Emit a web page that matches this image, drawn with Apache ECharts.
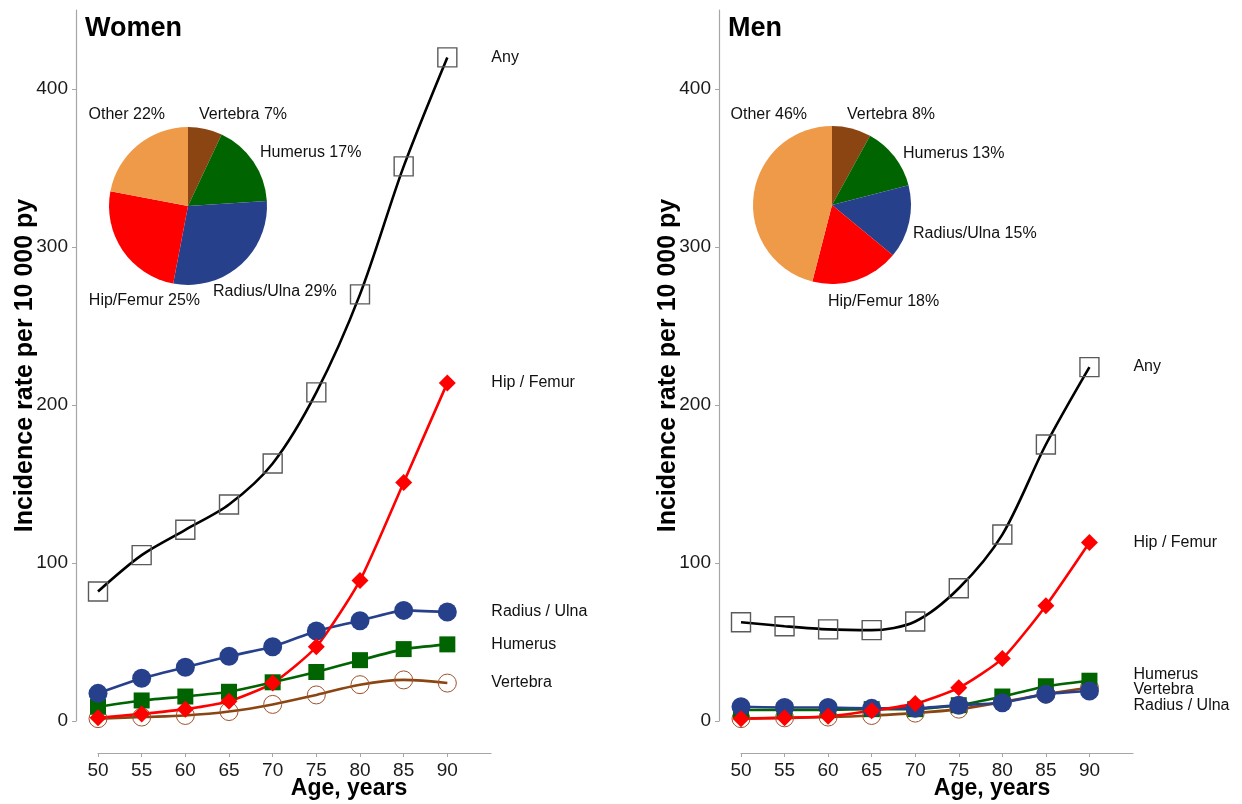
<!DOCTYPE html>
<html>
<head>
<meta charset="utf-8">
<script src="https://cdn.jsdelivr.net/npm/echarts@6/dist/echarts.min.js"></script>
<style>
  html, body { margin: 0; padding: 0; background: #fff; }
  #chart { width: 1242px; height: 804px; }
</style>
</head>
<body>
<div id="chart"></div>
<script>
// Age groups (years) and axis ticks
const ages = [50, 55, 60, 65, 70, 75, 80, 85, 90];
const xTicks = [50, 55, 60, 65, 70, 75, 80, 85, 90];
const yTicks = [0, 100, 200, 300, 400];

// Incidence rate per 10 000 person-years, women
const womenAny      = [82, 105, 121, 137, 163, 208, 270, 351, 420];
const womenHip      = [2, 4.5, 7.5, 12.5, 24, 47, 89, 151, 214];
const womenRadius   = [17.5, 27, 34, 41, 47, 57, 63.5, 70, 69];
const womenHumerus  = [9, 13, 15.5, 18.5, 24.5, 31, 38.5, 45.5, 48.5];
const womenVertebra = [1.5, 2.5, 3.5, 6, 10.5, 16.5, 23, 26, 24];

// Incidence rate per 10 000 person-years, men
const menAny      = [62.5, 60, 58, 57.5, 63, 84, 118, 175, 224];
const menHip      = [1.5, 2, 3, 6.5, 11, 21, 39.5, 73, 113];
const menRadius   = [9, 8.5, 8.5, 8, 8, 10, 11.5, 17, 19];
const menHumerus  = [7, 7, 7, 7.5, 7.5, 10, 15.5, 22, 25.5];
const menVertebra = [1.5, 2, 2.5, 3.5, 5, 7.5, 12, 17, 21];

// Share of fracture sites (%), clockwise from 12 o'clock
const pieSites = ['Vertebra', 'Humerus', 'Radius/Ulna', 'Hip/Femur', 'Other'];
const womenShare = [7, 17, 29, 25, 22];
const menShare   = [8, 13, 15, 18, 46];

const FONT = '"Liberation Sans", Arial, Helvetica, sans-serif';
const C = {
  any: '#000000', hip: '#ff0000', radius: '#27408b',
  humerus: '#006400', vertebra: '#8b4513', other: '#ee9a49'
};
const pieColors = [C.vertebra, C.humerus, C.radius, C.hip, C.other];

const pairs = vals => ages.map((a, i) => [a, vals[i]]);

function lineSeries(name, vals, gi, kind, labelDy) {
  const base = {
    name: name, type: 'line', xAxisIndex: gi, yAxisIndex: gi,
    data: pairs(vals), animation: false, silent: true,
    lineStyle: { width: 2.6 },
    endLabel: {
      show: true, formatter: name, distance: 44, offset: [0, labelDy || 0],
      fontFamily: FONT, fontSize: 16, color: '#111'
    }
  };
  if (kind === 'any') {
    Object.assign(base, {
      symbol: 'rect', symbolSize: 19, smooth: 0.3,
      lineStyle: { width: 2.6, color: C.any },
      itemStyle: { color: 'rgba(255,255,255,0)', borderColor: '#5a5a5a', borderWidth: 1.4 }
    });
  } else if (kind === 'hip') {
    Object.assign(base, {
      symbol: 'diamond', symbolSize: 17, smooth: 0.2,
      lineStyle: { width: 2.6, color: C.hip }, itemStyle: { color: C.hip }
    });
  } else if (kind === 'radius') {
    Object.assign(base, {
      symbol: 'circle', symbolSize: 19, smooth: 0.15,
      lineStyle: { width: 2.6, color: C.radius }, itemStyle: { color: C.radius }
    });
  } else if (kind === 'humerus') {
    Object.assign(base, {
      symbol: 'rect', symbolSize: 16, smooth: 0.15,
      lineStyle: { width: 2.6, color: C.humerus }, itemStyle: { color: C.humerus }
    });
  } else {
    Object.assign(base, {
      symbol: 'circle', symbolSize: 18, smooth: 0.35,
      lineStyle: { width: 2.6, color: C.vertebra },
      itemStyle: { color: 'rgba(255,255,255,0)', borderColor: '#a0522d', borderWidth: 1 }
    });
  }
  return base;
}

// Pie label anchors: [x, y, align]
const womenPieLabelPos = [[199, 115, 'left'], [260, 153, 'left'], [213, 292, 'left'], [200, 301, 'right'], [165, 115, 'right']];
const menPieLabelPos   = [[847, 115, 'left'], [903, 154, 'left'], [913, 234, 'left'], [828, 302, 'left'], [807, 115, 'right']];

function pieSeries(shares, center, pos) {
  return {
    type: 'pie', center: center, radius: 79, startAngle: 90, clockwise: true,
    animation: false, silent: true, avoidLabelOverlap: false, z: 1,
    data: pieSites.map((s, i) => ({ name: s, value: shares[i], itemStyle: { color: pieColors[i] } })),
    label: {
      show: true, position: 'outside', formatter: p => p.name + ' ' + p.value + '%',
      fontFamily: FONT, fontSize: 16, color: '#111'
    },
    labelLine: { show: false },
    labelLayout: p => ({ x: pos[p.dataIndex][0], y: pos[p.dataIndex][1], align: pos[p.dataIndex][2], verticalAlign: 'middle' })
  };
}

const axisGray = '#a6a6a6';
function xAxisCfg(gi) {
  return {
    type: 'value', gridIndex: gi, min: 50, max: 95, interval: 5, offset: 32,
    splitLine: { show: false },
    axisLine: { onZero: false, lineStyle: { color: axisGray, width: 1.2 } },
    axisTick: { customValues: xTicks, length: 4, lineStyle: { color: axisGray } },
    axisLabel: { customValues: xTicks, fontFamily: FONT, fontSize: 19, color: '#1a1a1a', margin: 8 }
  };
}
function yAxisCfg(gi) {
  return {
    type: 'value', gridIndex: gi, min: 0, max: 450, interval: 100, offset: 22,
    name: 'Incidence rate per 10 000 py', nameLocation: 'middle', nameGap: 38, nameRotate: 90,
    nameMoveOverlap: false,
    nameTextStyle: { fontFamily: FONT, fontSize: 25, fontWeight: 'bold', color: '#000' },
    splitLine: { show: false },
    axisLine: { show: true, onZero: false, lineStyle: { color: axisGray, width: 1.2 } },
    axisTick: { show: true, customValues: yTicks, length: 4, lineStyle: { color: axisGray } },
    axisLabel: { customValues: yTicks, fontFamily: FONT, fontSize: 19, color: '#1a1a1a', margin: 8 }
  };
}

const chart = echarts.init(document.getElementById('chart'), null, { renderer: 'canvas' });
chart.setOption({
  backgroundColor: '#fff',
  animation: false,
  grid: [
    { left: 98, top: 10, width: 393, height: 711 },
    { left: 741, top: 10, width: 392, height: 711 }
  ],
  xAxis: [xAxisCfg(0), xAxisCfg(1)],
  yAxis: [yAxisCfg(0), yAxisCfg(1)],
  graphic: [
    { type: 'text', left: 85, top: 15, style: { text: 'Women', font: 'bold 27px ' + FONT, fill: '#000' } },
    { type: 'text', left: 728, top: 15, style: { text: 'Men', font: 'bold 27px ' + FONT, fill: '#000' } },
    { type: 'text', x: 349, y: 789, style: { text: 'Age, years', font: 'bold 23px ' + FONT, fill: '#000', align: 'center', verticalAlign: 'middle' } },
    { type: 'text', x: 992, y: 789, style: { text: 'Age, years', font: 'bold 23px ' + FONT, fill: '#000', align: 'center', verticalAlign: 'middle' } }
  ],
  series: [
    pieSeries(womenShare, [188, 206], womenPieLabelPos),
    pieSeries(menShare, [832, 205], menPieLabelPos),
    lineSeries('Any', womenAny, 0, 'any'),
    lineSeries('Vertebra', womenVertebra, 0, 'vertebra'),
    lineSeries('Humerus', womenHumerus, 0, 'humerus'),
    lineSeries('Radius / Ulna', womenRadius, 0, 'radius'),
    lineSeries('Hip / Femur', womenHip, 0, 'hip'),
    lineSeries('Any', menAny, 1, 'any'),
    lineSeries('Vertebra', menVertebra, 1, 'vertebra', 2),
    lineSeries('Humerus', menHumerus, 1, 'humerus', -6),
    lineSeries('Radius / Ulna', menRadius, 1, 'radius', 15),
    lineSeries('Hip / Femur', menHip, 1, 'hip')
  ]
});
</script>
</body>
</html>
